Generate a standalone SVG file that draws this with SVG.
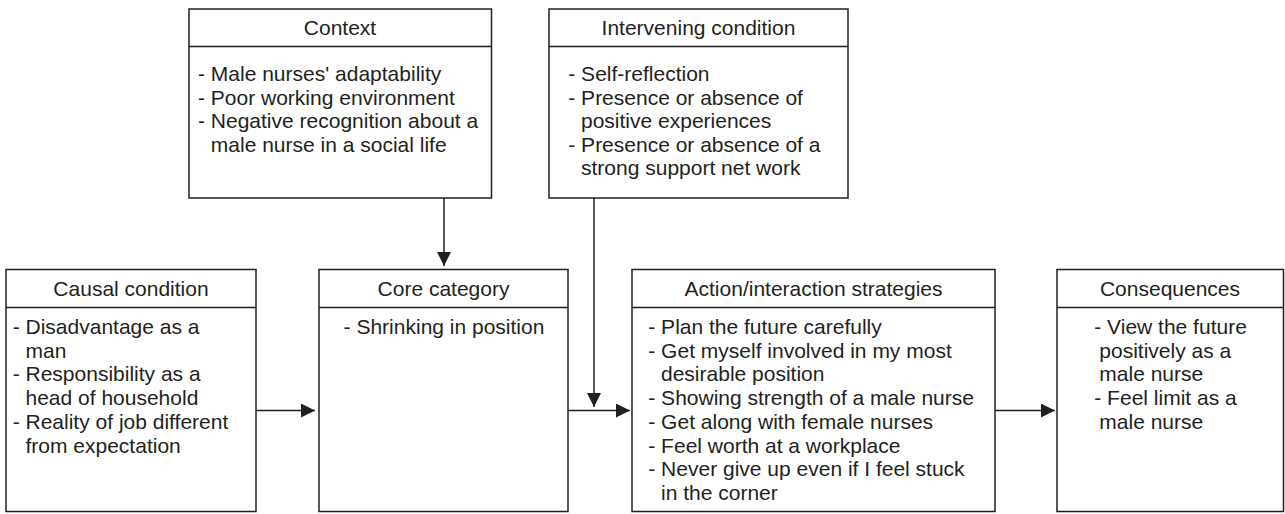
<svg xmlns="http://www.w3.org/2000/svg" width="1285" height="514" viewBox="0 0 1285 514">
<style>
.box{fill:#fff;stroke:#231f20;stroke-width:1.5}
.div{stroke:#231f20;stroke-width:1.5}
.t{font-family:"Liberation Sans",Arial,sans-serif;font-size:21px;fill:#231f20}
.c{text-anchor:middle}
.con{stroke:#231f20;stroke-width:1.5;fill:none}
</style>
<defs>
<marker id="arr" markerUnits="userSpaceOnUse" markerWidth="14" markerHeight="14" viewBox="0 0 12 12" refX="12" refY="6" orient="auto">
<path d="M0,0 L12,6 L0,12 Z" fill="#231f20"/>
</marker>
</defs>
<rect width="1285" height="514" fill="#fff"/>

<g id="context">
<rect class="box" x="189" y="9" width="302.5" height="189"/>
<line class="div" x1="189" y1="46.5" x2="491.5" y2="46.5"/>
<text class="t c" x="340" y="35">Context</text>
<text class="t" x="198" y="81">- Male nurses' adaptability</text>
<text class="t" x="198" y="104.5">- Poor working environment</text>
<text class="t" x="198" y="128">- Negative recognition about a</text>
<text class="t" x="210.8" y="151.5">male nurse in a social life</text>
</g>

<g id="intervening">
<rect class="box" x="549" y="9" width="299" height="189"/>
<line class="div" x1="549" y1="46.5" x2="848" y2="46.5"/>
<text class="t c" x="698.5" y="35">Intervening condition</text>
<text class="t" x="568.3" y="81">- Self-reflection</text>
<text class="t" x="568.3" y="104.5">- Presence or absence of</text>
<text class="t" x="581" y="128">positive experiences</text>
<text class="t" x="568.3" y="151.5">- Presence or absence of a</text>
<text class="t" x="581" y="175">strong support net work</text>
</g>

<g id="causal">
<rect class="box" x="6" y="269.5" width="250" height="242"/>
<line class="div" x1="6" y1="307.5" x2="256" y2="307.5"/>
<text class="t c" x="131" y="295.5">Causal condition</text>
<text class="t" x="12.7" y="334">- Disadvantage as a</text>
<text class="t" x="25.5" y="357.7">man</text>
<text class="t" x="12.7" y="381.4">- Responsibility as a</text>
<text class="t" x="25.5" y="405.1">head of household</text>
<text class="t" x="12.7" y="428.8">- Reality of job different</text>
<text class="t" x="25.5" y="452.5">from expectation</text>
</g>

<g id="core">
<rect class="box" x="319" y="269.5" width="249" height="242"/>
<line class="div" x1="319" y1="307.5" x2="568" y2="307.5"/>
<text class="t c" x="443.5" y="295.5">Core category</text>
<text class="t c" x="444" y="334">- Shrinking in position</text>
</g>

<g id="action">
<rect class="box" x="632" y="269.5" width="363" height="242"/>
<line class="div" x1="632" y1="307.5" x2="995" y2="307.5"/>
<text class="t c" x="813.5" y="295.5">Action/interaction strategies</text>
<text class="t" x="648.3" y="334">- Plan the future carefully</text>
<text class="t" x="648.3" y="357.7">- Get myself involved in my most</text>
<text class="t" x="661" y="381.4">desirable position</text>
<text class="t" x="648.3" y="405.1">- Showing strength of a male nurse</text>
<text class="t" x="648.3" y="428.8">- Get along with female nurses</text>
<text class="t" x="648.3" y="452.5">- Feel worth at a workplace</text>
<text class="t" x="648.3" y="476.2">- Never give up even if I feel stuck</text>
<text class="t" x="661" y="499.9">in the corner</text>
</g>

<g id="consequences">
<rect class="box" x="1057" y="269.5" width="226.5" height="242"/>
<line class="div" x1="1057" y1="307.5" x2="1283.5" y2="307.5"/>
<text class="t c" x="1170" y="295.5">Consequences</text>
<text class="t" x="1094.3" y="334">- View the future</text>
<text class="t" x="1099.3" y="357.7">positively as a</text>
<text class="t" x="1099.3" y="381.4">male nurse</text>
<text class="t" x="1094.3" y="405.1">- Feel limit as a</text>
<text class="t" x="1099.3" y="428.8">male nurse</text>
</g>

<g id="connectors">
<line class="con" x1="444" y1="198" x2="444" y2="266" marker-end="url(#arr)"/>
<line class="con" x1="594" y1="198" x2="594" y2="407" marker-end="url(#arr)"/>
<line class="con" x1="256" y1="410.5" x2="315" y2="410.5" marker-end="url(#arr)"/>
<line class="con" x1="568" y1="410.5" x2="630" y2="410.5" marker-end="url(#arr)"/>
<line class="con" x1="995" y1="410.5" x2="1055" y2="410.5" marker-end="url(#arr)"/>
</g>
</svg>
